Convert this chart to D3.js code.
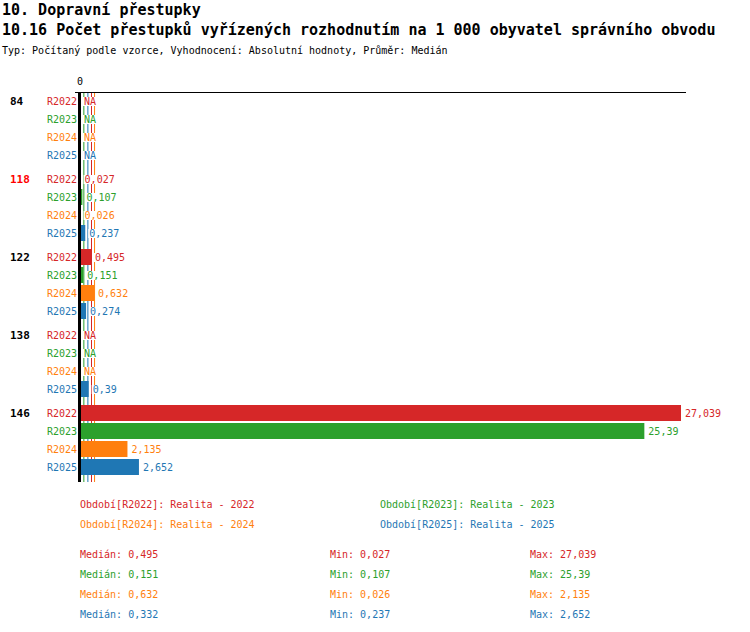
<!DOCTYPE html>
<html>
<head>
<meta charset="utf-8">
<script src="https://cdn.jsdelivr.net/npm/d3@7"></script>
<style>
  body { margin: 0; background: #fff; }
  text { font-family: "DejaVu Sans Mono", monospace; }
</style>
</head>
<body>
<svg id="drawing_region"></svg>
<script>
// data
const groups = ["84", "118", "122", "138", "146"];
const highlighted = "118";
const series = ["R2022", "R2023", "R2024", "R2025"];
const seriesNames = ["Realita - 2022", "Realita - 2023", "Realita - 2024", "Realita - 2025"];
const colors = ["#d62728", "#2ca02c", "#ff7f0e", "#1f77b4"];
const r2022 = [null, 0.027, 0.495, null, 27.039];
const r2023 = [null, 0.107, 0.151, null, 25.39];
const r2024 = [null, 0.026, 0.632, null, 2.135];
const r2025 = [null, 0.237, 0.274, 0.39, 2.652];
const values = [r2022, r2023, r2024, r2025];

const title1 = "10. Dopravní přestupky";
const title2 = "10.16 Počet přestupků vyřízených rozhodnutím na 1 000 obyvatel správního obvodu";
const subtitle = "Typ: Počítaný podle vzorce, Vyhodnocení: Absolutní hodnoty, Průměr: Medián";

const fmt = v => String(v).replace(".", ",");

const width = 750, height = 632;
const svg = d3.select("#drawing_region")
    .attr("width", width)
    .attr("height", height);

svg.append("text").attr("x", 2).attr("y", 15)
    .style("font-size", "15px").style("font-weight", "bold").text(title1);
svg.append("text").attr("x", 2).attr("y", 35)
    .style("font-size", "15px").style("font-weight", "bold").text(title2);
svg.append("text").attr("x", 2).attr("y", 54)
    .style("font-size", "10px").text(subtitle);

const maxAll = d3.max(values.flat());
const x = d3.scaleLinear().domain([0, maxAll]).range([80, 681]);
const yGroup = d3.scaleBand().domain(groups).range([92, 92 + groups.length * 78]);
const ySeries = d3.scaleBand().domain(series).range([0, 72]);

// rows
const rows = [];
groups.forEach((g, gi) => {
    series.forEach((s, si) => {
        rows.push({ group: g, series: s, si: si, value: values[si][gi] });
    });
});
const rowY = d => yGroup(d.group) + ySeries(d.series);

// median lines
const stats = series.map((s, si) => {
    const vals = values[si].filter(v => v != null);
    return { si: si, median: d3.median(vals), min: d3.min(vals), max: d3.max(vals) };
});

const yTop = 92, yBottom = 482;

svg.selectAll("line.median")
    .data(stats)
    .join("line")
    .attr("class", "median")
    .attr("x1", d => x(d.median) + 0.5)
    .attr("x2", d => x(d.median) + 0.5)
    .attr("y1", yTop)
    .attr("y2", yBottom)
    .attr("stroke", d => colors[d.si])
    .attr("stroke-width", 1);

// top axis
svg.append("line")
    .attr("x1", x(0) - 5).attr("x2", x(maxAll) + 5)
    .attr("y1", yTop + 0.5).attr("y2", yTop + 0.5)
    .attr("stroke", "black");
svg.append("text")
    .attr("x", x(0)).attr("y", 85)
    .attr("text-anchor", "middle")
    .style("font-size", "10px")
    .text("0");

// bars
svg.selectAll("rect.bar")
    .data(rows.filter(d => d.value != null))
    .join("rect")
    .attr("class", "bar")
    .attr("x", x(0))
    .attr("y", d => rowY(d) + 1)
    .attr("width", d => x(d.value) - x(0))
    .attr("height", ySeries.bandwidth() - 2)
    .attr("fill", d => colors[d.si]);

// value labels with white background
const lab = svg.selectAll("g.vlabel")
    .data(rows)
    .join("g")
    .attr("class", "vlabel");
lab.append("rect").attr("fill", "white");
lab.append("text")
    .attr("x", d => x(d.value == null ? 0 : d.value) + 4)
    .attr("y", d => rowY(d) + ySeries.bandwidth() / 2 + 4)
    .style("font-size", "10px")
    .attr("fill", d => colors[d.si])
    .text(d => d.value == null ? "NA" : fmt(d.value));
lab.each(function() {
    const b = d3.select(this).select("text").node().getBBox();
    d3.select(this).select("rect")
        .attr("x", b.x - 1).attr("y", b.y + 1)
        .attr("width", b.width + 1).attr("height", b.height - 2);
});

// zero axis line
svg.append("line")
    .attr("x1", x(0) - 0.5).attr("x2", x(0) - 0.5)
    .attr("y1", yTop).attr("y2", yBottom)
    .attr("stroke", "black").attr("stroke-width", 3);

// series labels
svg.selectAll("text.slabel")
    .data(rows)
    .join("text")
    .attr("class", "slabel")
    .attr("x", 77)
    .attr("y", d => rowY(d) + ySeries.bandwidth() / 2 + 4)
    .attr("text-anchor", "end")
    .style("font-size", "10px")
    .attr("fill", d => colors[d.si])
    .text(d => d.series);

// group labels
svg.selectAll("text.glabel")
    .data(groups)
    .join("text")
    .attr("class", "glabel")
    .attr("x", 10)
    .attr("y", d => yGroup(d) + ySeries.bandwidth() / 2 + 4)
    .style("font-size", "11px")
    .style("font-weight", "bold")
    .attr("fill", d => d === highlighted ? "#ff0000" : "black")
    .text(d => d);

// legend
svg.selectAll("text.legend")
    .data(series)
    .join("text")
    .attr("class", "legend")
    .attr("x", (d, i) => i % 2 === 0 ? 80 : 380)
    .attr("y", (d, i) => 508 + Math.floor(i / 2) * 20)
    .style("font-size", "10px")
    .attr("fill", (d, i) => colors[i])
    .text((d, i) => `Období[${d}]: ${seriesNames[i]}`);

// stats
const statCols = [
    { x: 80, label: "Medián", key: "median" },
    { x: 330, label: "Min", key: "min" },
    { x: 530, label: "Max", key: "max" }
];
statCols.forEach(c => {
    svg.selectAll(null)
        .data(stats)
        .join("text")
        .attr("x", c.x)
        .attr("y", (d, i) => 558 + i * 20)
        .style("font-size", "10px")
        .attr("fill", d => colors[d.si])
        .text(d => `${c.label}: ${fmt(d[c.key])}`);
});
</script>
</body>
</html>
